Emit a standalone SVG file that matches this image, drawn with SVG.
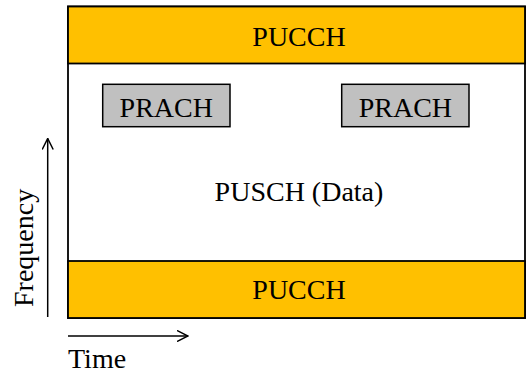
<svg xmlns="http://www.w3.org/2000/svg" width="526" height="379" viewBox="0 0 526 379">
<style>
text{font-family:"Liberation Serif","Times New Roman",serif;font-size:28px;fill:#000}
.band{fill:#FFC000;stroke:#000;stroke-width:1.8}
.prach{fill:#C0C0C0;stroke:#000;stroke-width:1.5}
.frame{fill:#fff;stroke:#000;stroke-width:1.8}
.axis{stroke:#000;stroke-width:1.5;fill:none}
</style>
<defs>
<marker id="open" viewBox="0 0 12 12" refX="11" refY="6" markerWidth="12" markerHeight="12" markerUnits="userSpaceOnUse" orient="auto">
<path d="M0,0.5 L11,6 L0,11.5" fill="none" stroke="#000" stroke-width="1.5"/>
</marker>
</defs>
<g id="pusch">
<rect class="frame" x="68" y="6.5" width="457" height="311.5"/>
<text x="299" y="201" text-anchor="middle">PUSCH (Data)</text>
</g>
<g id="pucch-top">
<rect class="band" x="68" y="6.5" width="457" height="57"/>
<text x="299" y="46" text-anchor="middle">PUCCH</text>
</g>
<g id="pucch-bottom">
<rect class="band" x="68" y="261" width="457" height="57"/>
<text x="299" y="299" text-anchor="middle">PUCCH</text>
</g>
<g id="prach-1">
<rect class="prach" x="102.7" y="84.3" width="127.3" height="42.4"/>
<text x="166.3" y="117.3" text-anchor="middle">PRACH</text>
</g>
<g id="prach-2">
<rect class="prach" x="341.7" y="84.3" width="127.3" height="42.4"/>
<text x="405.4" y="117.3" text-anchor="middle">PRACH</text>
</g>
<g id="connectors">
<line class="axis" x1="47.7" y1="317" x2="47.7" y2="138.5" marker-end="url(#open)"/>
<line class="axis" x1="68" y1="336" x2="188" y2="336" marker-end="url(#open)"/>
</g>
<g id="labels">
<text transform="translate(33,307) rotate(-90)">Frequency</text>
<text x="68" y="368">Time</text>
</g>
</svg>
